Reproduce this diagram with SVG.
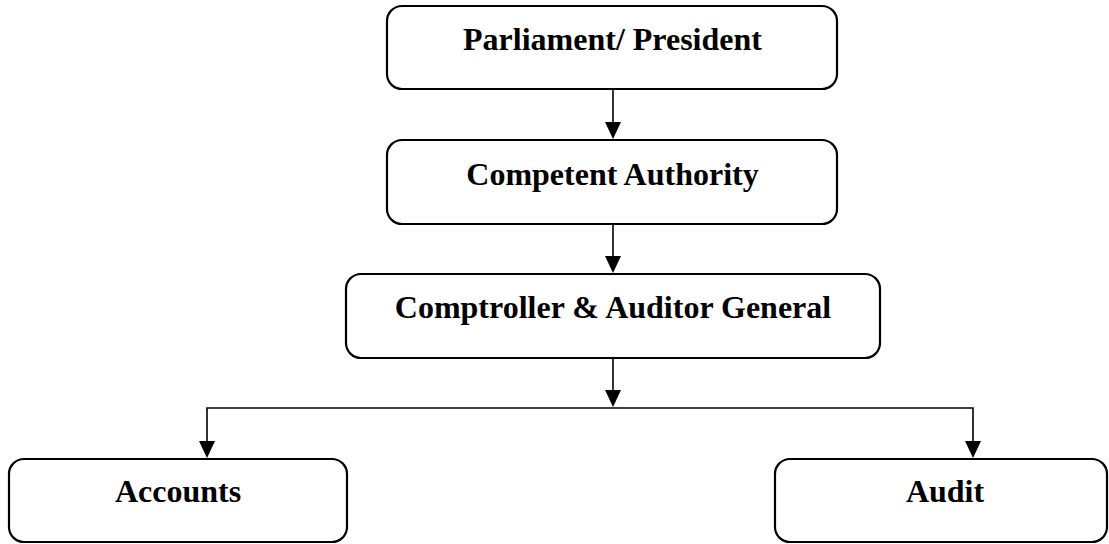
<svg xmlns="http://www.w3.org/2000/svg" width="1109" height="544" viewBox="0 0 1109 544">
<style>
.box{fill:#fff;stroke:#000;stroke-width:2.2}
.lbl{font-family:"Liberation Serif","Times New Roman",serif;font-weight:bold;font-size:32px;fill:#000;text-anchor:middle}
.ln{fill:none;stroke:#000;stroke-width:1.6}
.ah{fill:#000}
</style>
<rect width="1109" height="544" fill="#fff"/>
<g id="connectors">
<line class="ln" x1="613" y1="89" x2="613" y2="124"/>
<line class="ln" x1="613" y1="224" x2="613" y2="258"/>
<line class="ln" x1="613" y1="358" x2="613" y2="392"/>
<polyline class="ln" points="207,443 207,408 973,408 973,443"/>
<path class="ah" d="M605,122 L621,122 L613,139 Z"/>
<path class="ah" d="M605,256 L621,256 L613,273 Z"/>
<path class="ah" d="M605,390 L621,390 L613,407 Z"/>
<path class="ah" d="M199,441 L215,441 L207,458 Z"/>
<path class="ah" d="M965,441 L981,441 L973,458 Z"/>
</g>
<g id="parliament">
<rect class="box" x="387" y="6" width="450" height="83" rx="15"/>
<text class="lbl" x="612.5" y="50">Parliament/ President</text>
</g>
<g id="competent">
<rect class="box" x="387" y="140" width="450" height="84" rx="15"/>
<text class="lbl" x="612.5" y="185">Competent Authority</text>
</g>
<g id="cag">
<rect class="box" x="346" y="274" width="534" height="84" rx="15"/>
<text class="lbl" x="613" y="318">Comptroller &amp; Auditor General</text>
</g>
<g id="accounts">
<rect class="box" x="9" y="459" width="338" height="83" rx="15"/>
<text class="lbl" x="178" y="502">Accounts</text>
</g>
<g id="audit">
<rect class="box" x="775" y="459" width="332" height="83" rx="15"/>
<text class="lbl" x="945" y="502">Audit</text>
</g>
</svg>
